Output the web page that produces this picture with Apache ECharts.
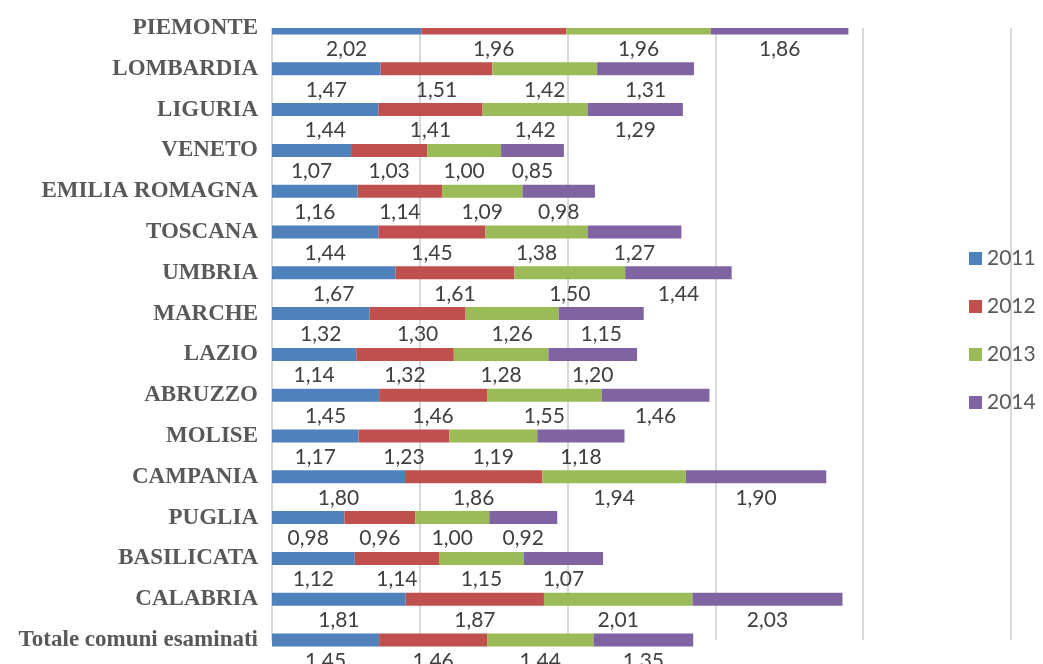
<!DOCTYPE html>
<html>
<head>
<meta charset="utf-8">
<script src="https://cdn.jsdelivr.net/npm/echarts@6/dist/echarts.min.js"></script>
<style>
  html, body { margin: 0; padding: 0; background: #fff; }
  #chart { width: 1043px; height: 664px; }
</style>
</head>
<body>
<div id="chart"></div>
<script>
  const regioni = ['PIEMONTE', 'LOMBARDIA', 'LIGURIA', 'VENETO', 'EMILIA ROMAGNA', 'TOSCANA', 'UMBRIA', 'MARCHE',
    'LAZIO', 'ABRUZZO', 'MOLISE', 'CAMPANIA', 'PUGLIA', 'BASILICATA', 'CALABRIA', 'Totale comuni esaminati']
  const anni = ['2011', '2012', '2013', '2014']
  const v2011 = [2.02, 1.47, 1.44, 1.07, 1.16, 1.44, 1.67, 1.32, 1.14, 1.45, 1.17, 1.80, 0.98, 1.12, 1.81, 1.45]
  const v2012 = [1.96, 1.51, 1.41, 1.03, 1.14, 1.45, 1.61, 1.30, 1.32, 1.46, 1.23, 1.86, 0.96, 1.14, 1.87, 1.46]
  const v2013 = [1.96, 1.42, 1.42, 1.00, 1.09, 1.38, 1.50, 1.26, 1.28, 1.55, 1.19, 1.94, 1.00, 1.15, 2.01, 1.44]
  const v2014 = [1.86, 1.31, 1.29, 0.85, 0.98, 1.27, 1.44, 1.15, 1.20, 1.46, 1.18, 1.90, 0.92, 1.07, 2.03, 1.35]

  const colori = ['#4F81BD', '#C0504D', '#9BBB59', '#8064A2']
  const valori = [v2011, v2012, v2013, v2014]
  const gridTop = 28

  const mychart = echarts.init(document.getElementById('chart'))
  const series = anni.map((anno, i) => ({
    type: 'bar',
    name: anno,
    stack: 'Total',
    barWidth: 13,
    itemStyle: { color: colori[i] },
    label: {
      show: true,
      position: 'bottom',
      distance: 4,
      fontFamily: 'Lato',
      fontSize: 21,
      color: '#404040',
      formatter: p => p.value.toFixed(2).replace('.', ',')
    },
    data: valori[i]
  }))

  mychart.setOption({
    animation: false,
    grid: { left: 272, right: 32, top: gridTop, bottom: 24, containLabel: false },
    legend: {
      data: anni,
      orient: 'vertical',
      left: 964,
      top: 243,
      itemWidth: 13,
      itemHeight: 13,
      itemGap: 27,
      icon: 'rect',
      textStyle: { fontFamily: 'Lato', fontSize: 21, color: '#595959' }
    },
    // l'area del grafico taglia la metà superiore della prima barra
    graphic: [{
      type: 'rect',
      z: 100,
      shape: { x: 268, y: 0, width: 775, height: gridTop },
      style: { fill: '#fff' }
    }],
    xAxis: {
      type: 'value',
      min: 0,
      max: 10,
      interval: 2,
      axisLabel: { show: false },
      axisLine: { show: false },
      axisTick: { show: false },
      splitLine: { lineStyle: { color: '#D9D9D9', width: 2 } }
    },
    yAxis: {
      type: 'category',
      inverse: true,
      boundaryGap: false,
      data: regioni,
      axisTick: { show: false },
      axisLine: { lineStyle: { color: '#D9D9D9', width: 2 } },
      axisLabel: {
        margin: 14,
        fontFamily: 'Liberation Serif',
        fontWeight: 'bold',
        fontSize: 23,
        color: '#595959'
      }
    },
    series: series
  })
</script>
</body>
</html>
